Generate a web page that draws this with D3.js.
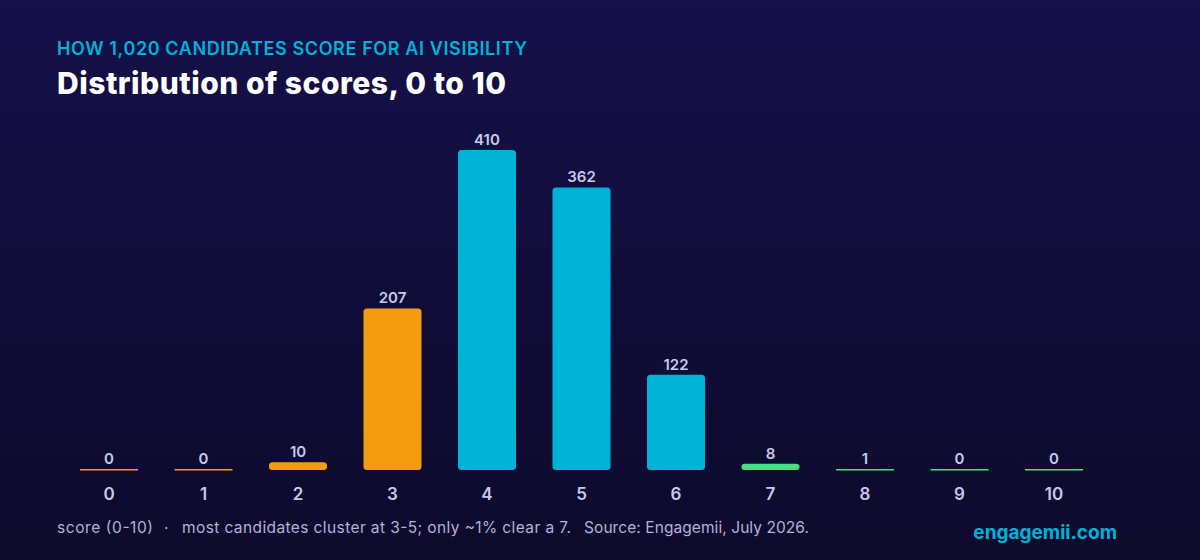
<!DOCTYPE html>
<html>
<head>
<meta charset="utf-8">
<script src="https://cdn.jsdelivr.net/npm/d3@7"></script>
<style>
  html, body { margin: 0; padding: 0; background: #100c34; }
  svg { display: block; font-family: Inter, "Noto Sans", sans-serif; }
</style>
</head>
<body>
<div class="chart"></div>
<script>
var svgWidth = 1200;
var svgHeight = 560;

// data
var scores = ["0", "1", "2", "3", "4", "5", "6", "7", "8", "9", "10"];
var counts = [0, 0, 10, 207, 410, 362, 122, 8, 1, 0, 0];
var bands = ["low", "low", "low", "low", "mid", "mid", "mid", "high", "high", "high", "high"];

var bandColor = { low: "#f39c0f", mid: "#00b2d6", high: "#4ade80" };

var svg = d3.select(".chart")
  .append("svg")
  .attr("width", svgWidth)
  .attr("height", svgHeight);

var grad = svg.append("defs").append("linearGradient")
  .attr("id", "bg")
  .attr("x1", 0).attr("y1", 0).attr("x2", 0).attr("y2", 1);
grad.append("stop").attr("offset", "0%").attr("stop-color", "#151049");
grad.append("stop").attr("offset", "100%").attr("stop-color", "#0d0a2c");

svg.append("rect")
  .attr("width", svgWidth)
  .attr("height", svgHeight)
  .attr("fill", "url(#bg)");

// headings
svg.append("text")
  .attr("x", 57).attr("y", 55)
  .attr("fill", "#00b2d6")
  .attr("font-size", 18)
  .attr("font-weight", 600)
  .attr("textLength", 470)
  .attr("lengthAdjust", "spacing")
  .text("HOW 1,020 CANDIDATES SCORE FOR AI VISIBILITY");

svg.append("text")
  .attr("x", 57).attr("y", 94)
  .attr("fill", "#ffffff")
  .attr("font-size", 30)
  .attr("font-weight", 800)
  .attr("textLength", 449)
  .attr("lengthAdjust", "spacing")
  .text("Distribution of scores, 0 to 10");

var x = d3.scaleBand()
  .domain(scores)
  .range([61.75, 1101.25])
  .paddingInner(0.386)
  .paddingOuter(0.193);

var y = d3.scaleLinear()
  .domain([0, 410])
  .range([470, 150]);

var rows = scores.map(function(s, i) {
  return { score: s, count: counts[i], band: bands[i] };
});

// tiny counts still get a hairline so the category is visible
function barH(d) {
  return Math.max(y(0) - y(d.count), 1.5);
}

var chartGroup = svg.append("g");

chartGroup.selectAll("rect.bar")
  .data(rows)
  .enter()
  .append("rect")
  .attr("class", "bar")
  .attr("x", d => x(d.score))
  .attr("y", d => d.count > 5 ? y(d.count) : y(0) - 1)
  .attr("width", x.bandwidth())
  .attr("height", d => barH(d))
  .attr("rx", d => d.count > 5 ? 3.5 : 0)
  .attr("fill", d => bandColor[d.band]);

chartGroup.selectAll("text.val")
  .data(rows)
  .enter()
  .append("text")
  .attr("class", "val")
  .attr("x", d => x(d.score) + x.bandwidth() / 2)
  .attr("y", d => y(0) - barH(d) - 5)
  .attr("text-anchor", "middle")
  .attr("fill", "#c9c8ea")
  .attr("font-size", 15)
  .attr("font-weight", 600)
  .text(d => d.count);

var bottomAxis = d3.axisBottom(x).tickSize(0).tickPadding(0);

var axisG = chartGroup.append("g")
  .attr("transform", "translate(0, 500)")
  .call(bottomAxis);
axisG.select(".domain").remove();
axisG.selectAll("text")
  .attr("dy", 0)
  .attr("fill", "#c9c8ea")
  .attr("font-size", 17)
  .attr("font-weight", 600)
  .attr("font-family", "Inter, 'Noto Sans', sans-serif");

// footer
var foot = svg.append("text")
  .attr("y", 533)
  .attr("fill", "#b3b2d8")
  .attr("font-size", 15.5);
foot.append("tspan").attr("x", 57)
  .attr("textLength", 96).attr("lengthAdjust", "spacing")
  .text("score (0-10)");
foot.append("tspan").attr("x", 164).text("\u00b7");
foot.append("tspan").attr("x", 182)
  .attr("textLength", 389).attr("lengthAdjust", "spacing")
  .text("most candidates cluster at 3-5; only ~1% clear a 7.");
foot.append("tspan").attr("x", 584)
  .attr("textLength", 225).attr("lengthAdjust", "spacing")
  .text("Source: Engagemii, July 2026.");

svg.append("text")
  .attr("x", 1117).attr("y", 539)
  .attr("text-anchor", "end")
  .attr("fill", "#00b2d6")
  .attr("font-size", 19)
  .attr("font-weight", 700)
  .text("engagemii.com");
</script>
</body>
</html>
